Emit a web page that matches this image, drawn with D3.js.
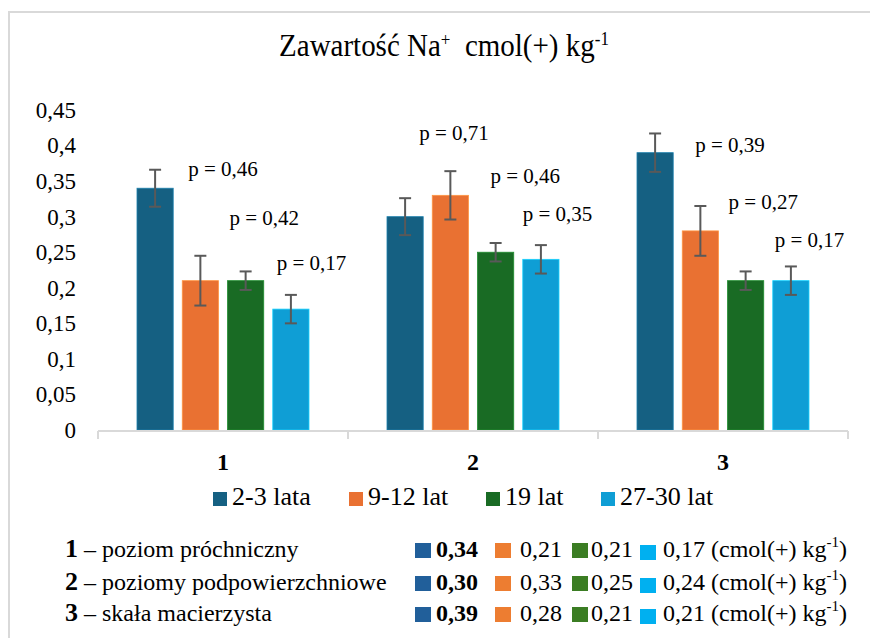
<!DOCTYPE html>
<html>
<head>
<meta charset="utf-8">
<script src="https://cdn.jsdelivr.net/npm/d3@7"></script>
<style>
  body { margin: 0; background: #fff; }
</style>
</head>
<body>
<script>
// data
var categories = ["1", "2", "3"];
var series = ["2-3 lata", "9-12 lat", "19 lat", "27-30 lat"];
var lata23 = [0.34, 0.30, 0.39];
var lat912 = [0.21, 0.33, 0.28];
var lat19 = [0.21, 0.25, 0.21];
var lat2730 = [0.17, 0.24, 0.21];
var err23 = [0.026, 0.026, 0.027];
var err912 = [0.035, 0.034, 0.035];
var err19 = [0.013, 0.013, 0.013];
var err2730 = [0.02, 0.02, 0.02];
var pText = [["0,46", "0,42", "0,17"], ["0,71", "0,46", "0,35"], ["0,39", "0,27", "0,17"]];
var pLevel = [[0.368, 0.298, 0.236], [0.418, 0.357, 0.304], [0.401, 0.321, 0.267]];
var yTicks = [0, 0.05, 0.1, 0.15, 0.2, 0.25, 0.3, 0.35, 0.4, 0.45];
var horizonNames = ["poziom próchniczny", "poziomy podpowierzchniowe", "skała macierzysta"];

var values = [lata23, lat912, lat19, lat2730];
var errors = [err23, err912, err19, err2730];
var colors = ["#156082", "#e97132", "#196b24", "#0f9ed5"];
var tableColors = ["#215f9a", "#ed7d31", "#3b7d23", "#00b0f0"];
// nudge of each p label from the left edge of the next bar
var pDx = [[6, 2, 4], [-13, 13, 0], [13, 1, 2]];
var FONT = "'Liberation Serif', 'Times New Roman', monospace";

var W = 870, H = 638;
var svg = d3.select("body").append("svg").attr("width", W).attr("height", H)
  .style("font-family", FONT);

svg.append("rect").attr("x", 9).attr("y", 12).attr("width", 900).attr("height", 700)
  .attr("fill", "#fff").attr("stroke", "#d9d9d9").attr("stroke-width", 2);

var x0 = d3.scaleBand().domain(categories).range([98, 848]);
var x1 = d3.scaleBand().domain(d3.range(series.length)).range([39, 211]).paddingInner(0.2);
var y = d3.scaleLinear().domain([0, 0.45]).range([430, 110]);

var fmt = d3.formatLocale({decimal: ",", thousands: " ", grouping: [3], currency: ["", ""]});
var tickFmt = fmt.format(".2~f");
var valFmt = fmt.format(".2f");

// title is a bit taller than wide in the picture
function stretch(sel, cx, cy, k) {
  sel.attr("transform", "translate(" + cx + "," + cy + ") scale(1," + k + ") translate(" + (-cx) + "," + (-cy) + ")");
}

// title
var title = svg.append("text").attr("x", 444).attr("y", 56).attr("text-anchor", "middle")
  .style("font-size", "29px").style("font-family", FONT);
title.append("tspan").text("Zawartość Na");
title.append("tspan").attr("dy", -9).style("font-size", "17px").text("+");
title.append("tspan").attr("dy", 9).text("\u00a0 cmol(+) kg");
title.append("tspan").attr("dy", -10).style("font-size", "17px").text("-1");
stretch(title, 444, 56, 1.1);

// y axis (labels only)
var yAxis = svg.append("g").attr("transform", "translate(98,0)")
  .call(d3.axisLeft(y).tickValues(yTicks).tickSize(0).tickPadding(22).tickFormat(tickFmt));
yAxis.select(".domain").remove();
yAxis.selectAll("text").style("font-size", "23px").style("font-family", FONT).attr("fill", "#000");

// bars
var groups = svg.selectAll("g.grp").data(categories).enter().append("g")
  .attr("class", "grp")
  .attr("transform", function(d) { return "translate(" + x0(d) + ",0)"; });

groups.each(function(cat, ci) {
  var g = d3.select(this);
  series.forEach(function(s, si) {
    var v = values[si][ci], e = errors[si][ci];
    g.append("rect")
      .attr("x", x1(si)).attr("width", x1.bandwidth())
      .attr("y", y(v)).attr("height", y(0) - y(v))
      .attr("fill", colors[si])
      .attr("stroke", d3.color(colors[si]).brighter(0.8)).attr("stroke-width", 0.8);
    var cx = x1(si) + x1.bandwidth() / 2;
    g.append("line").attr("x1", cx).attr("x2", cx).attr("y1", y(v + e)).attr("y2", y(v - e))
      .attr("stroke", "#595959").attr("stroke-width", 2);
    [v + e, v - e].forEach(function(t) {
      g.append("line").attr("x1", cx - 6).attr("x2", cx + 6).attr("y1", y(t)).attr("y2", y(t))
        .attr("stroke", "#595959").attr("stroke-width", 2);
    });
  });
  pText[ci].forEach(function(p, pi) {
    g.append("text").attr("x", x1(pi + 1) + pDx[ci][pi]).attr("y", y(pLevel[ci][pi]))
      .attr("dy", "0.35em").style("font-size", "21px").style("font-family", FONT).text("p = " + p);
  });
});

// x axis
var xAxisY = 431;
svg.append("line").attr("x1", 98).attr("x2", 848).attr("y1", xAxisY).attr("y2", xAxisY)
  .attr("stroke", "#d9d9d9").attr("stroke-width", 2);
svg.selectAll("line.xt").data([98].concat(categories.map(function(c) { return x0(c) + x0.bandwidth(); })))
  .enter().append("line").attr("class", "xt")
  .attr("x1", function(d) { return d; }).attr("x2", function(d) { return d; })
  .attr("y1", xAxisY).attr("y2", xAxisY + 8)
  .attr("stroke", "#d9d9d9").attr("stroke-width", 2);
svg.selectAll("text.cat").data(categories).enter().append("text").attr("class", "cat")
  .attr("x", function(d) { return x0(d) + x0.bandwidth() / 2; }).attr("y", 470)
  .attr("text-anchor", "middle").style("font-size", "24px").style("font-weight", "bold")
  .style("font-family", FONT)
  .text(function(d) { return d; });

// legend
var legX = [213, 349, 486, 601];
var leg = svg.selectAll("g.leg").data(series).enter().append("g").attr("class", "leg")
  .attr("transform", function(d, i) { return "translate(" + legX[i] + ",492)"; });
leg.append("rect").attr("width", 14).attr("height", 14).attr("fill", function(d, i) { return colors[i]; });
leg.append("text").attr("x", 19).attr("y", 13).style("font-size", "26px").style("font-family", FONT)
  .text(function(d) { return d; });

// bottom table
var rowY = [557, 590, 621];
var colSq = [415, 495, 572, 640];
var colTx = [436, 520, 591, 663];
horizonNames.forEach(function(name, ri) {
  var t = svg.append("text").attr("x", 65).attr("y", rowY[ri]).style("font-size", "24px").style("font-family", FONT);
  t.append("tspan").style("font-weight", "bold").style("font-size", "26px").text(categories[ri]);
  t.append("tspan").text(" – " + name);
  series.forEach(function(s, si) {
    svg.append("rect").attr("x", colSq[si]).attr("y", rowY[ri] - 14 + (si === 3 ? 2 : 0)).attr("width", 16).attr("height", 15)
      .attr("fill", tableColors[si]);
    var vt = svg.append("text").attr("x", colTx[si]).attr("y", rowY[ri]).style("font-size", "24px")
      .style("font-family", FONT);
    vt.append("tspan").style("font-weight", si === 0 ? "bold" : "normal").text(valFmt(values[si][ri]));
    if (si === series.length - 1) {
      vt.append("tspan").text(" (cmol(+) kg");
      vt.append("tspan").attr("dy", -10).style("font-size", "15px").text("-1");
      vt.append("tspan").attr("dy", 10).text(")");
    }
  });
});
</script>
</body>
</html>
